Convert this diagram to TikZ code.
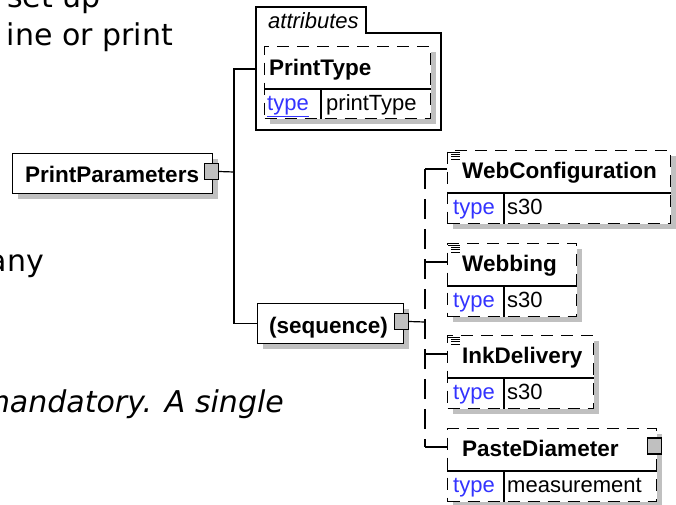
\documentclass[tikz,border=0pt]{standalone}
\usepackage{fontspec}
\setmainfont{Liberation Sans}
\newfontfamily\pagefont{DejaVu Sans}
\definecolor{typeblue}{RGB}{51,51,255}
\definecolor{shadegray}{RGB}{192,192,192}
\tikzset{
  link/.style={line width=1.2pt, black},
  reqbox/.style={draw, line width=1.2pt, fill=white, anchor=north west, inner sep=0pt,
    preaction={fill=shadegray, transform canvas={shift={(5pt,-5pt)}}}},
  optbox/.style={reqbox, dash pattern=on 12pt off 8pt},
  trunkdash/.style={link, dash pattern=on 20pt off 10pt},
  expander/.style={draw, line width=1.1pt, fill=shadegray, minimum width=14pt, minimum height=16pt, inner sep=0pt},
  eltitle/.style={anchor=base west, inner sep=0pt, font=\fontsize{22.5}{27}\selectfont\bfseries},
  typelbl/.style={anchor=base west, inner sep=0pt, font=\fontsize{22}{26}\selectfont, text=typeblue},
  typeval/.style={anchor=base west, inner sep=0pt, font=\fontsize{22}{26}\selectfont},
  pagetext/.style={inner sep=0pt, font=\pagefont\fontsize{30}{36}\selectfont}
}
\begin{document}
\begin{tikzpicture}[x=1pt, y=-1pt]
    \useasboundingbox (0,0) rectangle (676,504);
    \clip (0,0) rectangle (676,504);
    % page text around the diagram
    \node[pagetext, anchor=base west] (line1) at (7,7) {set up};
    \node[pagetext, anchor=base east] (line2) at (173,45) {ine or print};
    \node[pagetext, anchor=base east] (line3) at (44,271) {any};
    \node[pagetext, anchor=base east, font=\pagefont\fontsize{30}{36}\selectfont\itshape] (line4) at (284,412) {mandatory. A single};
    % attributes group
    \draw[link] (256,130) -- (256,7) -- (366,7) -- (366,33) -- (441,33) -- (441,130) -- cycle;
    \coordinate (attrin) at (256,69);
    \node[anchor=base west, inner sep=0pt, font=\fontsize{22}{26}\selectfont\itshape] (attrlbl) at (268,28) {attributes};
    \node[optbox, minimum width=166, minimum height=72] (ptype) at (264,46) {};
    \draw[link] ([yshift=-43pt]ptype.north west) -- ([yshift=-43pt]ptype.north east);
    \draw[link] ([xshift=57pt,yshift=-43pt]ptype.north west) -- ([xshift=57pt]ptype.south west);
    \node[eltitle] (ptype-t) at (269,75) {PrintType};
    \node[typelbl] (ptype-k) at (267,110) {\underline{type}};
    \node[typeval] (ptype-v) at (326,110) {printType};
    % root element
    \node[reqbox, minimum width=200, minimum height=40] (pparams) at (12,153) {};
    \node[eltitle] (pparams-t) at (25,182) {PrintParameters};
    \node[expander] (ppexp) at (211.5,171.5) {};
    \coordinate (ppjoint) at (234,172);
    % sequence
    \node[reqbox, minimum width=146, minimum height=40] (seqbox) at (257,303) {};
    \node[eltitle] (seqbox-t) at (269,333) {(sequence)};
    \node[expander] (seqexp) at (401.5,321.5) {};
    \coordinate (seqjoint) at (425,322);
    \draw[link] (ppexp.east) -- (ppjoint);
    \draw[link] (attrin) -| (ppjoint) |- (seqbox.west);
    \draw[link] (seqexp.east) -- (seqjoint);
    % child elements
    \foreach \nm/\ty/\bw/\ttl/\tval/\icon in {webcfg/150/223/WebConfiguration/s30/1,
        webbing/243/129/Webbing/s30/1, inkdel/335/146/InkDelivery/s30/1,
        pastedia/428/209/PasteDiameter/measurement/0} {
      \node[optbox, minimum width=\bw, minimum height=73] (\nm) at (447,\ty) {};
      \draw[link] ([yshift=-43pt]\nm.north west) -- ([yshift=-43pt]\nm.north east);
      \draw[link] ([xshift=57pt,yshift=-43pt]\nm.north west) -- ([xshift=57pt]\nm.south west);
      \node[eltitle] (\nm-t) at (462,\ty+28) {\ttl};
      \node[typelbl] (\nm-k) at (453,\ty+64) {type};
      \node[typeval] (\nm-v) at (507,\ty+64) {\tval};
      \coordinate (\nm-in) at ([yshift=-19pt]\nm.north west);
      \draw[link] (seqjoint |- \nm-in) -- (\nm-in);
      \ifnum\icon=1
        \draw[line width=0.8pt] (448,\ty+2) -- (460,\ty+2);
        \foreach \k in {1,2,3}
          \draw[line width=0.8pt] (451,\ty+2+2.4*\k) -- (460,\ty+2+2.4*\k);
      \fi
    }
    \draw[trunkdash] (seqjoint |- webcfg-in) -- (seqjoint |- pastedia-in);
    \node[expander] (pdexp) at (654.5,446) {};
\end{tikzpicture}
\end{document}
